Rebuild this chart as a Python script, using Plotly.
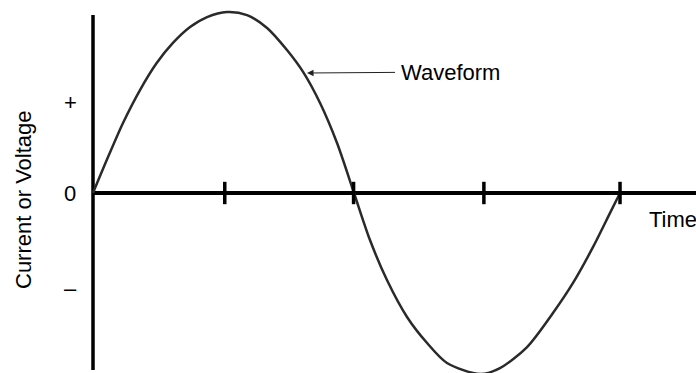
import plotly.graph_objects as go

# Waveform (time in degrees of one cycle, value as fraction of peak)
time_deg = [0, 9.4, 20.5, 32.1, 43.5, 54.6, 66.3, 77.9, 91.5, 105.2, 118.9, 132.5,
            143.5, 155.1, 166.7, 178.3, 189.2, 200.8, 214.5, 228.2, 241.8, 264.4,
            278.0, 296.5, 314.2, 327.9, 341.6, 353.2, 360]
value = [0, 0.182, 0.387, 0.569, 0.718, 0.829, 0.917, 0.972, 1.0, 0.983, 0.912, 0.790,
         0.669, 0.497, 0.276, 0, -0.260, -0.481, -0.685, -0.829, -0.939, -1.0,
         -0.967, -0.851, -0.663, -0.497, -0.298, -0.110, 0]

tick_positions = [90, 178, 267, 360]
ylabel_values = [0.5, 0, -0.53]
ylabel_texts = ["+", "0", "–"]

FONT = "Liberation Sans, Arial, sans-serif"
W, H = 696, 373

fig = go.Figure()

fig.add_trace(go.Scatter(
    x=time_deg, y=value, mode="lines",
    line=dict(color="#2a2a2a", width=2.5, shape="spline", smoothing=0.8),
    hoverinfo="skip", showlegend=False,
))

# tick marks crossing the time axis
fig.add_trace(go.Scatter(
    x=tick_positions, y=[0] * len(tick_positions), mode="markers",
    marker=dict(symbol="line-ns", size=16, line=dict(color="black", width=3.5)),
    hoverinfo="skip", showlegend=False, cliponaxis=False,
))

x_range = [-63.53, 411.9]
y_range = [-0.9945, 1.0663]

shapes = [
    # time axis
    dict(type="line", xref="x", yref="y", x0=0, x1=x_range[1], y0=0, y1=0,
         line=dict(color="black", width=4), layer="below"),
    # value axis
    dict(type="line", xref="x", yref="paper", x0=0, x1=0, y0=3 / H, y1=358 / H,
         line=dict(color="black", width=3.5), layer="below"),
]

annotations = []
for v, t in zip(ylabel_values, ylabel_texts):
    annotations.append(dict(
        x=70 / W, xref="paper", y=v, yref="y", text=t, showarrow=False,
        xanchor="center", yanchor="middle", font=dict(family=FONT, size=22, color="black"),
    ))

annotations.append(dict(
    x=23 / W, xref="paper", y=(H - 200) / H, yref="paper", text="Current or Voltage",
    textangle=-90, showarrow=False, xanchor="center", yanchor="middle",
    font=dict(family=FONT, size=22, color="black"),
))
annotations.append(dict(
    x=647 / W, xref="paper", y=(H - 220) / H, yref="paper", text="Time",
    showarrow=False, xanchor="left", yanchor="middle",
    font=dict(family=FONT, size=22, color="black"),
))
annotations.append(dict(
    x=146.2, y=0.663, xref="x", yref="y", text="Waveform",
    showarrow=True, ax=143, ay=-1, axref="pixel", ayref="pixel",
    arrowhead=2, arrowsize=1.3, arrowwidth=1, arrowcolor="#222", borderpad=5,
    font=dict(family=FONT, size=22, color="black"),
))

fig.update_layout(
    width=W, height=H,
    margin=dict(l=0, r=0, t=0, b=0),
    paper_bgcolor="white", plot_bgcolor="white",
    xaxis=dict(range=x_range, visible=False, fixedrange=True),
    yaxis=dict(range=y_range, visible=False, fixedrange=True),
    shapes=shapes, annotations=annotations,
    showlegend=False,
)

fig.write_html(
    "out.html",
    config={"displayModeBar": False},
    post_script="document.body.style.margin='0px';document.body.style.overflow='hidden';",
)
